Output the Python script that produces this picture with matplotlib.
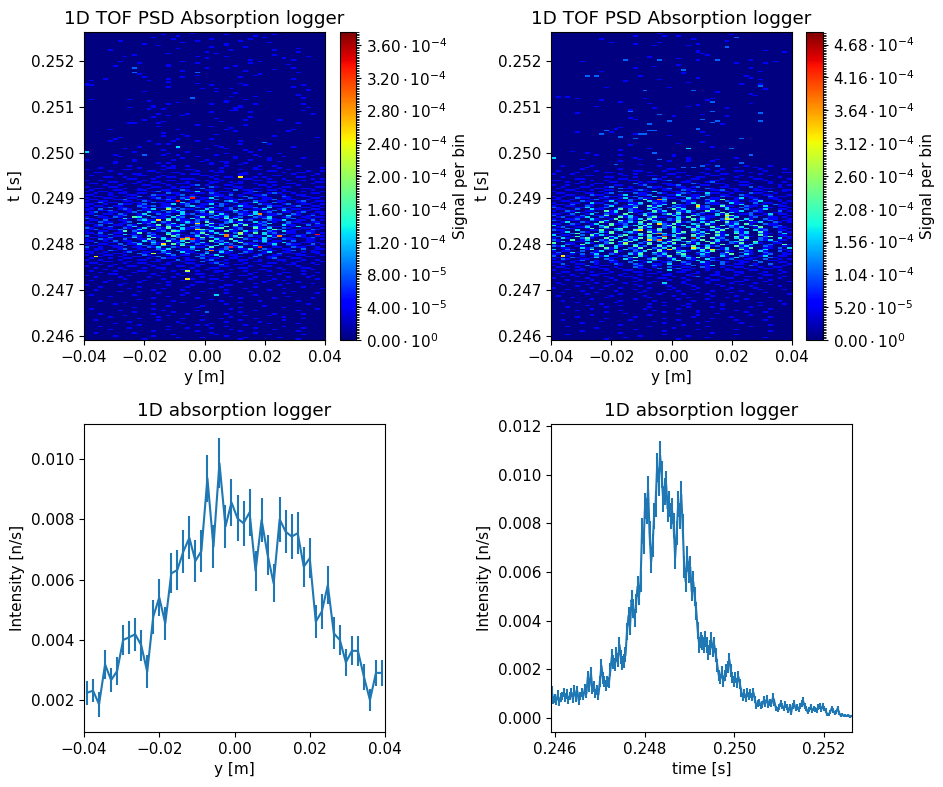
"""
Recreates the McStas absorption logger figure: two y/t maps and two 1D profiles.
"""

import numpy as np
import matplotlib
matplotlib.use("Agg")
import matplotlib.pyplot as plt
from matplotlib.ticker import FuncFormatter, MultipleLocator

plt.rcParams["font.size"] = 11

Y_RANGE = (-0.04, 0.04)
T_RANGE = (0.24591, 0.25263)

# 1D profile along y
Y_INTENSITY = [
    0.00225, 0.00232, 0.00187, 0.00319, 0.00267, 0.00297, 0.00400, 0.00409, 0.00419, 0.00383,
    0.00295, 0.00477, 0.00541, 0.00455, 0.00621, 0.00632, 0.00693, 0.00739, 0.00662, 0.00695,
    0.00936, 0.00709, 0.00986, 0.00776, 0.00856, 0.00803, 0.00787, 0.00823, 0.00629, 0.00798,
    0.00682, 0.00588, 0.00800, 0.00759, 0.00743, 0.00754, 0.00643, 0.00671, 0.00461, 0.00494,
    0.00582, 0.00422, 0.00400, 0.00326, 0.00364, 0.00364, 0.00278, 0.00201, 0.00291, 0.00291,
]
Y_ERROR = [
    0.00040, 0.00039, 0.00042, 0.00048, 0.00041, 0.00045, 0.00051, 0.00054, 0.00054, 0.00051,
    0.00055, 0.00056, 0.00061, 0.00054, 0.00066, 0.00066, 0.00071, 0.00072, 0.00069, 0.00071,
    0.00078, 0.00072, 0.00083, 0.00072, 0.00077, 0.00076, 0.00074, 0.00077, 0.00065, 0.00073,
    0.00067, 0.00063, 0.00074, 0.00072, 0.00073, 0.00070, 0.00066, 0.00066, 0.00054, 0.00057,
    0.00063, 0.00053, 0.00051, 0.00044, 0.00048, 0.00049, 0.00044, 0.00036, 0.00044, 0.00044,
]

# 1D profile along time, units of 1e-5 n/s
T_INTENSITY = [
    110, 75, 80, 70, 95, 65, 85, 90, 105, 85,
    100, 75, 90, 105, 80, 115, 85, 110, 70, 90,
    105, 90, 120, 100, 170, 130, 185, 120, 130, 100,
    115, 95, 150, 215, 165, 150, 135, 150, 145, 200,
    255, 230, 220, 260, 240, 300, 250, 225, 235, 260,
    355, 420, 375, 485, 450, 410, 470, 540, 505, 560,
    770, 720, 870, 850, 940, 760, 640, 710, 830, 880,
    1030, 970, 1080, 1000, 900, 930, 960, 860, 880, 830,
    850, 790, 660, 760, 880, 830, 920, 790, 620, 560,
    660, 600, 620, 520, 560, 500, 440, 360, 300, 320,
    310, 300, 325, 300, 270, 290, 320, 280, 300, 260,
    215, 175, 160, 190, 150, 175, 195, 210, 240, 195,
    165, 150, 165, 145, 170, 140, 105, 85, 100, 80,
    105, 90, 100, 85, 105, 75, 50, 60, 65, 50,
    55, 75, 60, 80, 55, 65, 60, 85, 65, 40,
    35, 45, 60, 50, 40, 55, 45, 30, 45, 20,
    50, 60, 40, 45, 35, 50, 60, 70, 50, 40,
    25, 35, 45, 30, 40, 35, 30, 45, 50, 35,
    50, 40, 30, 15, 15, 25, 40, 30, 20, 25,
    40, 20, 10, 15, 8, 10, 8, 12, 5, 8,
]
T_ERROR = [
    20, 17, 18, 16, 19, 15, 18, 18, 20, 18,
    20, 16, 18, 20, 17, 21, 18, 20, 16, 18,
    20, 18, 21, 19, 25, 22, 26, 21, 22, 19,
    21, 19, 24, 28, 25, 24, 22, 24, 23, 27,
    30, 28, 28, 30, 29, 33, 30, 28, 29, 30,
    35, 38, 36, 41, 40, 37, 40, 43, 42, 44,
    50, 48, 53, 52, 55, 50, 46, 48, 52, 53,
    58, 56, 60, 57, 54, 55, 56, 53, 54, 52,
    52, 51, 46, 50, 53, 52, 55, 50, 45, 42,
    46, 44, 45, 41, 42, 40, 37, 34, 31, 32,
    32, 31, 32, 31, 30, 30, 32, 30, 31, 29,
    26, 23, 22, 25, 22, 23, 25, 26, 28, 25,
    23, 22, 23, 21, 23, 21, 18, 16, 18, 16,
    18, 17, 18, 16, 18, 15, 13, 14, 14, 13,
    13, 15, 14, 16, 13, 14, 14, 16, 14, 11,
    10, 12, 14, 12, 11, 13, 12, 10, 12, 8,
    12, 14, 11, 12, 10, 12, 14, 15, 12, 11,
    9, 10, 12, 10, 11, 10, 10, 12, 12, 10,
    12, 11, 10, 7, 7, 9, 11, 10, 8, 9,
    11, 8, 6, 7, 5, 6, 5, 6, 4, 5,
]

# Map cells as colour levels 0-9, top row first. The speckle is typed by eye to
# follow the density seen in each t band; single cells are not an exact reading.
LEFT_VMAX = 3.76e-4
LEFT_ROWS = [
    "0000000000000000000000100000000000000000",
    "00000000000000001000000000000100000000010",
    "00000000000000000001000000000000000100000",
    "0000000000000010000000000000000000000100",
    "000000000000000000100000001000000010000",
    "000000010000000000000001000000001000000",
    "0000000000000000000010000000000000000010",
    "000000000000100000000000000001000000000",
    "000000000000000100000000000001000000000000",
    "00000000000000000000000000100000010000000000",
    "00000000000000000001000000000000000000000000100",
    "0000010000000000000000000000001000000001",
    "000000000000000000000000010000000000000000001",
    "0000000000000000010000000001000000000000",
    "000000000010000000000000000000000000000100000",
    "00000000100000000000000100000100000000000000001",
    "000000000000000000000000010000000000000001",
    "0000000000000000000000000000000000100000000100",
    "0000000100000000000010000000000000001",
    "00000000000100000000000100000000001000000000000",
    "0000000000000000010000000000000000000000001",
    "000000100000000001000000000000010000",
    "00000000002000000000000001000100000000000001000",
    "00000000000000000000000000000000000000010",
    "000000000000000000001000000000000100000",
    "000000000020000000000002000000000000000000001",
    "0000000000010000000000000000000000001000000",
    "000000000000000000000001000000000001000000",
    "000000000000100000001000000000001000000",
    "000010000000000001000000000000000000000000010",
    "0100000000000100000000000000000000000000000",
    "0000000000000000010000000000000000000000000000",
    "1000000000000000000000010000000010000000",
    "1100000000000000000000000010000001000000000001",
    "00000000000000000100000000000000000000000001",
    "000000000000000000000000100100100000000000",
    "00000000000000000000000000000000000000000000001",
    "000000000000100000000000000100000000001000000",
    "00000000000000000000000000000001000000000000",
    "000000000000000000000000000000000000000000001",
    "00000000000000000000000000000010000100000000",
    "0000000000000000000000200000000000000000000001",
    "01000000010000000000000000000000010000000",
    "00000000000001000000000000000100000000000000",
    "000000000000000000010000000001000000000000",
    "0000000000000000010000000010000000010000000001",
    "00000000000000100000000000000000100000000",
    "00000000010000100000000000000001100000000000001",
    "0000000000000100100000000000000100000000000",
    "00000000000000000000000000000011000000000000010",
    "000000000000000000000000001000000010000",
    "0000000000000001000001000000000000000000000000010",
    "00000000000000000100100000000000000000",
    "0000000000000010000000000000000000100000",
    "0000000000000000000000000001000000000000",
    "0000000000001000000000000000000001000000100",
    "0000000000000000100000000000100000000000",
    "0000000001100001000000000000000000000000000010",
    "00000000000000000000000100000000010000000",
    "000000000000000100000000001000000000000",
    "0000000000000000000000000000001000000000",
    "00000100000000000001000000000100000000000001",
    "0000000000000000000000000000000100000000001",
    "0000000000000000100000000000000000000",
    "00000000000000000000100000010000000000000000",
    "000000000000000010000100000000000000000100",
    "0000000100000000000000000000000000000000000000001",
    "0000001000000000000100000010000000000000",
    "000001000000010000100001000000001000000",
    "0000000000000000000000000000000000000200000",
    "00000000000000010100000000000000100000100000",
    "000000000000000000000000000100000000000",
    "0000000000010000000300000000100000000000000100",
    "000000001000000000010000010001000000000",
    "000000000000000010000000000000000100100000",
    "3000000000100000000001000000000000100000000",
    "00000000000000000100000000000100000000001000",
    "00000010000020001001000000010000000100000",
    "000000010000000000000001000000010000100001",
    "0000000000000000000010000000000100000010000001",
    "1000000000100000001000000100000000100010000",
    "0000001000100000000000001000110000000000100000",
    "00000010000000010100000000100100010000000",
    "00000000000000000000000000100000100000000000",
    "000000000100000010100100000001000000100100001",
    "00010000000100000110000000001000000100001000000001",
    "10000000110000001000011000000000100110000010000000",
    "00000100000001100000000100101000000000110000001001",
    "00110000000000010011000000011000010000000100110000",
    "00000001001100000000101100000000110010000001000010",
    "01000000000110001000000011010000100000011000000100",
    "00001100100000010110000000100110000101000000110000",
    "00000000011000100000111000010000011000100100000101",
    "10010000000010000110000101001000000110000010010000",
    "00000110000100110000010000110010100000110000000011",
    "01100000101000001001110000100001100100000011000100",
    "00001001000011000100001201000110000011010000100000",
    "10000110000000110010110000210001100000100110000011",
    "00110000100101000011000120000110100110001000011000",
    "01000011000110001100210001100002011000110100000100",
    "10011000100000120100011300101100001210000110010001",
    "00100101100110000211000110210010011000121001000110",
    "11000100011000211001201000111020100112000100110000",
    "00110010100201100110012100021100120011000210011001",
    "10001100011000120110210011300110002101100110000110",
    "01100011200110011200130110020011210001120011001000",
    "10011000110021000112001201100231000211001100120011",
    "00120110001100211000311200110012011300021000110100",
    "11001002110120001130120011302100110021100120011001",
    "10110011000211201100023110012001311000211001200110",
    "01001201100120011312000211300120011201300110011001",
    "11020001210011300120211003110120200113001201100110",
    "10011200110211002013100231200113021100120310011000",
    "01200110012003110211300120411002110301200110120011",
    "11001102100130021100312011203100211300112002100101",
    "00210011200113001204100211031200113020110031101200",
    "10011021001300211031200140211301200211300120011011",
    "21001100310120011302103110020413001102310012001100",
    "01102001100231100403110212001130412000211300110201",
    "10021100120011302100131204100231100312010021100110",
    "11001201100312001130021300411200311021300120011020",
    "00120011021001140211300213102003140112000311002011",
    "10110200113002110413002110311402001310211001300110",
    "21001100210130021400311200134001200411300210011001",
    "01200112001300411021310042110031200113042001100210",
    "10011001302110012043100121300411031200210311001100",
    "11020011001402100311002140131002110403120011002101",
    "00110200311001200413100214003110412003011200110010",
    "20011011002103110042011301200413002110312001210011",
    "01100200113100413002110140311002410013020110011200",
    "10021100200114003120041120031140021103100211001101",
    "11001020110031200411302100412003100213011002001100",
    "00200110012100311002041130021300411002110310011010",
    "10011002011300210041300211003120021100130021100201",
    "01100110200121003100411002130012100311020011001100",
    "20010011001102130021003110400211300120011002110010",
    "10110001200110021300112003101200113002100110020011",
    "00100210011000113002110300112030011020110012000100",
    "11001000120011002100311002003110021001300110010110",
    "01010011000210011300020113001100210011002001100010",
    "10001100100021000120110020130011000120011000110001",
    "00110001001100120011000211003001100200110010001100",
    "01000100110001002110010020110011001000120001100000",
    "10010001000110010002011001200100110010001100010010",
    "00001100010000110010100020011000100110000100100001",
    "01100000100110000100011000120100010000110001000100",
    "00010010000001001100000110002001100010000011000010",
    "10000100011000100001100100001100001001100000100000",
    "00100001000010011000001000110000110000001000011000",
    "00001000100000001000110001000010000011000100000100",
    "01000010000110000010000100011000010000100000010000",
    "00010000001000001000010000010010000100000110000010",
    "00000110000000100001000110000100001000001000010000",
    "10000000010000010000100000100000110000100000000100",
    "00100001000001000010000010000100000100000010001000",
    "00000000100000001000001000110000001000010000000010",
    "01000100000010000000100000001001000000100100000000",
    "00001000000100000100000110000000100001000000100000",
    "00000000100000010000000000100000000100000010000100",
    "10000001000000000100001000000110000000001000000000",
    "00010000000100000000010000001000000100000000010000",
    "00000000010000001000000000100000010000000100000001",
    "00100000000000100000100000000100000000100000000000",
    "00000001000100000000000010000000001000000001000000",
    "00000000000000010000010000000100000000000100000010",
    "01000000001000000000100000030000000100000000000000",
    "00000100000000000100000000000010000000000010000000",
    "00000000000000100000000100000000100000010000000100",
    "00000000000100000000000000100000000000000000000000",
    "00010000000000000010000000001000000010000000100000",
    "00000000100000000000100000000000100000000000000000",
    "00000010000000100000000000000100000000000000001000",
    "00000000000000000100000010000000000001000000000000",
    "00000000001000000000000100000000100000000100000000",
    "01000000000000100000000000000010000000000000000010",
    "00000001000000001000000100000000000100000000100",
    "00000000001000000010000002000000100000000000000",
    "00010000000000100000010000000100000000010000010",
    "00000000100000000100000010000000010000100000000",
    "00000100000000010000000000000010000000000100000",
    "00000000000100000000100000001000000100000000010",
    "00100000000000010000000010000000100000000100000",
    "00000000010000000001000000000100000010000000000",
    "00000010000000000000100000100000000000100000100",
    "00000000000100000000000101000000010000000000000",
    "00010000000000000100000000000100000000000100000",
    "00000000010000000000010000100000000100000000010",
    "00000100000000000100000000000010000000010000000",
    "00000000000000100000000100000000100000000000100",
    "00100000001000000000000000100000000100000000000",
    "00000000000000000010000000010000000000100000010",
    "00000010000000100000000000000100000000000000000",
    "00000000000000000001000010000000010000001000000",
    "00000000000010000000000000000000100000000000100",
]
# (row, column, level) of the brightest cells
LEFT_HOT = [
    (91, 32, 6), (104, 22, 8), (106, 19, 8), (111, 17, 5), (114, 36, 7), (118, 15, 6),
    (120, 23, 6), (124, 23, 6), (127, 29, 7), (127, 48, 8), (128, 29, 7), (128, 40, 7),
    (129, 21, 7), (130, 20, 7), (130, 22, 8), (135, 30, 8), (135, 36, 8), (137, 26, 7),
    (133, 16, 6), (155, 21, 6), (141, 2, 6), (139, 14, 5), (116, 10, 4), (125, 8, 4),
    (150, 21, 5), (126, 32, 5), (121, 31, 4),
]

RIGHT_VMAX = 4.88e-4
RIGHT_ROWS = [
    "0000000000000000000000100000000000000000",
    "000000000000000000000000000000000000010",
    "00000000000000000100000100100000000000",
    "0000000000000000000000000000000000000020",
    "00000000001000000000000000000100000000",
    "0000000000000000000000000000000000001",
    "0000000000001000000000100000000000000",
    "00000000000000000100000000000010000000",
    "000000000000000000000100000010000000000",
    "0000000000000000000000000000000000002",
    "0000000000000000000000000000000000000",
    "00000000000000000000000000000010000000000000100",
    "0000000000000000000000000000001000000000000000001",
    "0000000000000000000000000000000100000000000",
    "0000000000000000000000000000000010000000000",
    "0000000000000000000010000000000000000000",
    "00000000000000000000000000100000000000000000",
    "00000000000000020000002000000010002000000100000",
    "00000010000000000000000000000000000000000000001",
    "0000000000000000000000000000000000000010000010",
    "00000000000000000000000000100000000000000000000",
    "0000000000000000000001000000000000000000000",
    "00000000000000000100000000000000000000000100",
    "000000000000000000000000000200000000000000000",
    "000000000010000000000000000000000000000000010",
    "00000000000000000000000000010000000000000000",
    "000000000000000000000000000000000000000000000",
    "000000020200000000100000000000000000000010000",
    "00000000000000000000000000000010000000000100",
    "000000000000000000000010000000000000000000010",
    "000000000000000100000000000000000000000000000",
    "0000000000000000000000000000100000000000000",
    "000000000000000000000000000000000000000100010",
    "000000000000000000000000000000000000000000020",
    "000000000001000000000000100000000000000000",
    "000000000000000000000000000000000000000000001",
    "000000000000000000020000000002000000000000000",
    "00000000000000000000000000000000001000000000",
    "0000000000000000000000000000000000000000010",
    "000000000000000000000000000000000000000000100",
    "010100000000000000000000000000000000000000000",
    "000001000000000000010000000000000100000000000",
    "00000000001000000000000000000000100000000000",
    "0000000000000010000000000000000002000000000",
    "00000000000000000000100000000000000000000100",
    "0000000000000000000000000000001000000000000",
    "000000000100000000000000000010000000000000000",
    "000000000000000000000100000000000000100000",
    "00000000000000001000000000000000000000000000",
    "00000000000000002000000000000000020000000000",
    "00000100000000000000000000000000000000000002",
    "00000000000000000000002000000001000000000000",
    "000000000000000000000000010000000000100000000",
    "000000000000000010000000000000000000000000000",
    "00000000000000000100000000000002000000000000",
    "00000000000000000000000020000000002000000002",
    "000000000000000000000000000000000200000000000",
    "0000000000000000000020000000000000010000",
    "00000000000000000000000000000000000000000000",
    "00000000000000100000000000000000000000000",
    "0000000000000100000000000000002000000000000",
    "00000000000200000000220000000000000000000000",
    "00000100000010000000000000000001000000000000",
    "000000000020000001220000000000000000000000",
    "00000000000000000000000010000000100000000",
    "00000000000000200000000000000000000000000",
    "0000000000000000020000000000000000000002",
    "000000000000000000000000000000000000000000000",
    "0000000000000000000000000000000100000000000",
    "00000000000000000000000000100000000000000000",
    "00000000000000001000000000000000000000000000",
    "0000000000000000000000000000000001000000",
    "00000000000000000000100000003000000002000000",
    "00000000000000100000000000000000000000000",
    "00001000000000000000000000000000000000000",
    "0000000100000000000002000000000000000000",
    "0000000001000010000000000100000000000000020000",
    "0000000000000000000000000100000000000",
    "300000000000000001000000000010000000001",
    "00000010000000000010002000001000001000000",
    "000000000000001000000000100010000100000000",
    "00000000000000000000000000000000000000020",
    "00000000000002000010000000000000100000000000",
    "0010000010000000000000100000000200200000100001",
    "00000001000000000000000000020200000000100010",
    "00000010000000100000000011000000100100000001000010",
    "01000000010000000110000100000000001000110000100000",
    "00000100000110000000100000110001000000000100000011",
    "10001000000000100100000011000000100110000001000000",
    "00000001100000010000110000001000011000010000010000",
    "00100000000110000100000100100011000000100100000100",
    "00000110000000110000021000000110000100000011000001",
    "11000000100100001100000120001000011000100000100000",
    "00010010000011000010110000011000120000011000010010",
    "00000100011000000201000110000210001100000100010000",
    "10010000100001100012000011200001100010011000000101",
    "00100011000120001000211000110120000110000201000100",
    "01000100011000211000010120011000210001100010110000",
    "00011000100110000121000110021100011200100011000011",
    "10000110001000211000130001100211000110110000120010",
    "01100001100120000211002100121000311001000211001000",
    "00011000211000130011200011300110200110021000110001",
    "10100110000211001200031100120113000211001100020110",
    "01000211001100130021100211003120011000130110011000",
    "11001000120011002114001300112000211400110021001100",
    "00110021000130112000311200021100130021100113000101",
    "10001100311002001130021104001300211003110020110010",
    "01102001100211003120011300211040011200130011002100",
    "10011002100130011200413002110031200411002110300110",
    "21000113001200211400130021310041200130021100110001",
    "01100200311001402100312004130021140031102001300110",
    "10021001100413002110041300213100412001130021000201",
    "00110310020113004100231100413002110403100211001100",
    "11002001300211040013100241300121003140011200130110",
    "20011020011400213004120013100420113004100211020001",
    "01200113002100413100241100314002110041300120011010",
    "10011200310014002130410021300413100214003100211001",
    "21001100211300412004130021400311004120031400120011",
    "00130021004100213140023100412003130041200113002101",
    "11002100130041120031400214100320410021304100211000",
    "30011002103140021304100240130041200413100240011200",
    "01200113002400130041300214003130041002130014002110",
    "10021001400213400131004203100412003140213002100101",
    "21100300114002300410214003100420131400210031200110",
    "00130021003140023100412003140213004100313004100201",
    "11002400130041002140031300420031402100413002110030",
    "30110020413100240031400213100412004130021004100110",
    "02001400210031402100413204100314002100413100240011",
    "10310024100413002140321400240130041200314002100301",
    "21004013002140031300420014300214003120041002130110",
    "01300110041200314002103140024100413002310040012000",
    "40011003100240130021400314002130041002140031001100",
    "10021040013100241300413002140031200410021300120041",
    "21300110024003100412004130021400312000413100210010",
    "00110031200413002140021304100231400130021400110203",
    "30021001400210031200414002100314002130041001300110",
    "10110020013004100213004100231003140021002103100201",
    "02003100210014002130031200410021300140021100210010",
    "11001020130021003140021300240013100214003100120011",
    "20110010021300120031002140031002100310021001300110",
    "01002100130011002400130021003140021001300110021000",
    "10210011000210031000240013002100310012001100200101",
    "00100120010021000310021002400130021000110020011000",
    "11001000210011002001300120021003100210011002000110",
    "00200110010002100210011030012001100200110010020001",
    "10010002001100100120021001100200130011000210010010",
    "01100100110001000210010020011002100100110001001100",
    "00010010001100100011002001200100110010001000110000",
    "10000110000100011000100030011000100011000110000100",
    "00110000100010000110001000110010001000110000100010",
    "01000010001100010000110010000110001000010001000100",
    "00001000110000100010000110001000011000100000110000",
    "00100100000100011000100001000120000100001100000010",
    "10000001000010000100001100010000100011000001000100",
    "00010000100001000010000010001000011000001000010000",
    "00000110000100000100010000010000100000110000100001",
    "01000000010000010000100300010000100001000010000000",
    "00100001000010000100000100001000001000010000010000",
    "00000100000100000010000010000100000100000100000100",
    "10000000100000100000100001000010000001000010000000",
    "00010000001000000100000010000100000010000001000010",
    "00000010000001000001000000100000010000010000000000",
    "00100000010000000010000100000010000001000000100000",
    "00000001000000100000001000010000100000000100000001",
    "01000000000010000001000001000000010000100000000000",
    "00001000000100000000100000001000000010000000010000",
    "00000000100000000100000000100000100000001000000000",
    "00100000000000100000010000000100000000100000000100",
    "00000100000001000000000100000000010000000001000000",
    "00000000001000000000100000001000000100000000000010",
    "00000001000000100000000100010000000100000001000",
    "00010000000100000000100000001000010000000100000",
    "00000000100000000001000000100000000100000000010",
    "00000100000000100000010000000010000000100000000",
    "00000000000100000000000100000010000000001000100",
    "00100000000000010000000000100000001000000000000",
    "00000000100000000000100000000010000000000100000",
    "00000100000000000100000000000100000001000000010",
    "00000000000100000000000100000000010000000000000",
    "00100000000000001000000000100000000000100000100",
    "00000000001000000000010000000000100000000000000",
    "00000010000000000000000100000010000000010000000",
    "00000000000000100000000000010000000000000000010",
    "00010000000000000000100000000000100000000100000",
    "00000000010000000000000001000000000000000000000",
    "00000000000000000100000000000010000000100000000",
    "00000010000000000000000100000000000000000000010",
    "00000000000000100000000000000000010000000000000",
    "00010000000000000000000100000000000000100000000",
    "00000000000000000010000000001000000000000000000",
    "00000000000000010000000000000000100000000000100",
    "00000000000100000000000000100000000000000000000",
]
RIGHT_HOT = [
    (104, 22, 7), (108, 30, 6), (114, 36, 6), (119, 22, 6), (123, 18, 6), (125, 22, 7),
    (127, 23, 8), (128, 29, 9), (129, 20, 6), (129, 22, 7), (131, 15, 5), (135, 24, 6),
    (139, 2, 6), (135, 33, 6), (116, 36, 6), (134, 29, 6), (130, 9, 4),
]


def levels_to_signal(rows, hot, vmax):
    """Turn the typed level strings into a signal array, bottom row first."""
    grid = np.array([[int(c) for c in row.ljust(50, "0")[:50]] for row in rows], dtype=float)
    for row, col, level in hot:
        grid[row, col] = level
    return grid[::-1] * vmax / 9.0


def sci_label(value, _pos):
    if abs(value) < 1e-12:
        return r"$0.00 \cdot 10^{0}$"
    exponent = int(np.floor(np.log10(abs(value)) + 1e-9))
    return rf"${value / 10.0 ** exponent:.2f} \cdot 10^{{{exponent}}}$"


def pixel_axes(fig, left, top, right, bottom):
    width, height = fig.get_size_inches() * fig.dpi
    return fig.add_axes([left / width, 1 - bottom / height,
                         (right - left) / width, (bottom - top) / height])


def draw_map(fig, box, cbox, rows, hot, vmax, step):
    signal = levels_to_signal(rows, hot, vmax)
    y_edges = np.linspace(Y_RANGE[0], Y_RANGE[1], signal.shape[1] + 1)
    t_edges = np.linspace(T_RANGE[0], T_RANGE[1], signal.shape[0] + 1)
    ax = pixel_axes(fig, *box)
    mesh = ax.pcolormesh(y_edges, t_edges, signal, cmap="jet", vmin=0, vmax=vmax)
    ax.set_xlim(*Y_RANGE)
    ax.set_ylim(*T_RANGE)
    ax.set_xticks([-0.04, -0.02, 0.0, 0.02, 0.04])
    ax.set_yticks([0.246, 0.247, 0.248, 0.249, 0.250, 0.251, 0.252])
    ax.xaxis.set_major_formatter(FuncFormatter(lambda v, _: f"{v:.2f}".replace("-", "\u2212")))
    ax.set_xlabel("y [m]")
    ax.set_ylabel("t [s]", labelpad=6)
    ax.set_title("1D TOF PSD Absorption logger", fontsize=13.2)

    cax = pixel_axes(fig, *cbox)
    cbar = fig.colorbar(mesh, cax=cax)
    cbar.set_ticks(np.arange(10) * step)
    cax.yaxis.set_major_formatter(FuncFormatter(sci_label))
    cax.yaxis.set_minor_locator(MultipleLocator(step / 20))
    cbar.set_label("Signal per bin", labelpad=4)


def main():
    fig = plt.figure(figsize=(9.43, 7.87), dpi=100)

    draw_map(fig, (84, 32, 325, 340), (340, 32, 356, 340), LEFT_ROWS, LEFT_HOT, LEFT_VMAX, 4e-5)
    draw_map(fig, (551, 32, 792, 340), (806, 32, 823, 340), RIGHT_ROWS, RIGHT_HOT, RIGHT_VMAX, 5.2e-5)

    ax = pixel_axes(fig, 84, 424, 385, 732)
    y_edges = np.linspace(Y_RANGE[0], Y_RANGE[1], len(Y_INTENSITY) + 1)
    y_centers = 0.5 * (y_edges[:-1] + y_edges[1:])
    ax.errorbar(y_centers, Y_INTENSITY, yerr=Y_ERROR)
    ax.set_xlim(*Y_RANGE)
    ax.set_ylim(0.00095, 0.01116)
    ax.set_xticks([-0.04, -0.02, 0.0, 0.02, 0.04])
    ax.set_xlabel("y [m]")
    ax.set_ylabel("Intensity [n/s]")
    ax.set_title("1D absorption logger", fontsize=13.2)

    ax = pixel_axes(fig, 551, 424, 852, 732)
    t_edges = np.linspace(T_RANGE[0], T_RANGE[1], len(T_INTENSITY) + 1)
    t_centers = 0.5 * (t_edges[:-1] + t_edges[1:])
    ax.errorbar(t_centers, np.array(T_INTENSITY) * 1e-5, yerr=np.array(T_ERROR) * 1e-5)
    ax.set_xlim(*T_RANGE)
    ax.set_ylim(-0.000575, 0.01208)
    ax.set_xticks([0.246, 0.248, 0.250, 0.252])
    ax.set_xlabel("time [s]")
    ax.set_ylabel("Intensity [n/s]")
    ax.set_title("1D absorption logger", fontsize=13.2)

    fig.savefig("out.png", dpi=100)


if __name__ == "__main__":
    main()
